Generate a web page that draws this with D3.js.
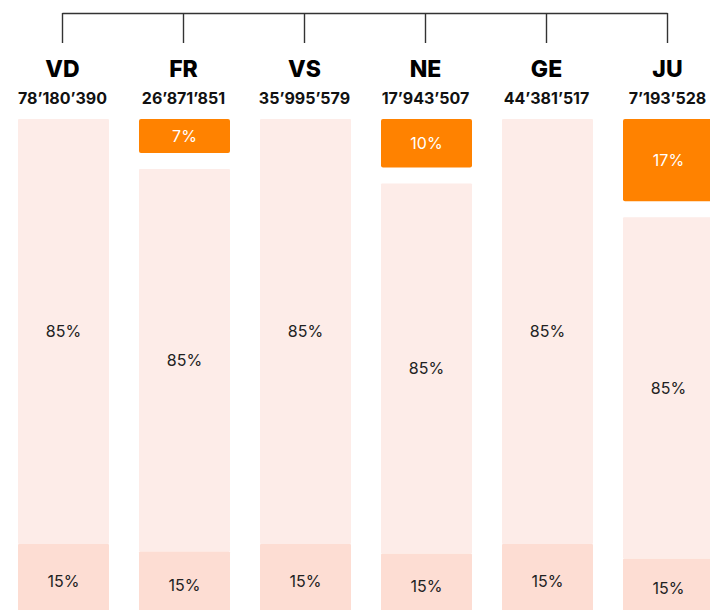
<!DOCTYPE html>
<html>
<head>
<meta charset="utf-8">
<script src="https://cdn.jsdelivr.net/npm/d3@7"></script>
<style>
  body { margin: 0; background: #fff; }
  svg { display: block; font-family: Inter, "Liberation Sans", sans-serif; }
</style>
</head>
<body>
<div id="chart"></div>
<script>
(function(){
  'use strict';

  // cantons and their totals
  var cantons = ['VD', 'FR', 'VS', 'NE', 'GE', 'JU'];
  var totals = ['78’180’390', '26’871’851', '35’995’579', '17’943’507', '44’381’517', '7’193’528'];
  // share of the orange segment on top (0 = none)
  var topShare = [0, 0.07, 0, 0.10, 0, 0.17];
  // split of the rest
  var midShare = [0.85, 0.85, 0.85, 0.85, 0.85, 0.85];
  var lowShare = [0.15, 0.15, 0.15, 0.15, 0.15, 0.15];

  var width = 710, height = 610;
  var barTop = 119, colH = 500, gap = 16;

  var svg = d3.select('#chart').append('svg')
    .attr('width', width).attr('height', height);

  var x = d3.scaleBand().domain(cantons).range([18, 714]).paddingInner(30 / 121).paddingOuter(0);
  var fmt = d3.format('.0%');

  // bracket on top
  var cx = function(c){ return x(c) + x.bandwidth() / 2 - 1; };
  svg.append('path')
    .attr('d', 'M' + cx(cantons[0]) + ',13.5H' + cx(cantons[cantons.length - 1]))
    .attr('stroke', '#333').attr('stroke-width', 1.4).attr('fill', 'none');
  svg.selectAll('line.tick').data(cantons).enter().append('line')
    .attr('class', 'tick')
    .attr('x1', cx).attr('x2', cx).attr('y1', 13).attr('y2', 43)
    .attr('stroke', '#333').attr('stroke-width', 1.4);

  svg.selectAll('text.name').data(cantons).enter().append('text')
    .attr('class', 'name')
    .attr('x', cx).attr('y', 77)
    .attr('text-anchor', 'middle')
    .attr('font-size', 23).attr('font-weight', 800).attr('fill', '#000')
    .text(function(d){ return d; });

  svg.selectAll('text.total').data(cantons).enter().append('text')
    .attr('class', 'total')
    .attr('x', cx).attr('y', 103.5)
    .attr('text-anchor', 'middle')
    .attr('font-size', 16).attr('font-weight', 700).attr('fill', '#111')
    .text(function(d, i){ return totals[i]; });

  var rows = cantons.map(function(c, i){
    var avail = topShare[i] > 0 ? colH - gap : colH;
    var y = d3.scaleLinear().domain([0, 1]).range([0, avail]);
    var rest = 1 - topShare[i];
    var segs = [];
    var pos = barTop;
    if (topShare[i] > 0) {
      segs.push({ c: c, v: topShare[i], y0: pos, h: y(topShare[i]), k: 'top' });
      pos += y(topShare[i]) + gap;
    }
    var hm = y(rest * midShare[i]);
    segs.push({ c: c, v: midShare[i], y0: pos, h: hm, k: 'mid' });
    pos += hm;
    segs.push({ c: c, v: lowShare[i], y0: pos, h: y(rest * lowShare[i]), k: 'low' });
    return segs;
  });
  var segs = d3.merge(rows);

  var fill = { top: '#FF8200', mid: '#FDECE8', low: '#FDDDD3' };
  var ink = { top: '#fff', mid: '#222', low: '#222' };

  svg.selectAll('rect.seg').data(segs).enter().append('rect')
    .attr('class', 'seg')
    .attr('x', function(d){ return x(d.c); })
    .attr('y', function(d){ return d.y0; })
    .attr('width', x.bandwidth())
    .attr('height', function(d){ return d.h; })
    .attr('rx', function(d){ return d.k == 'top' ? 2 : 1; })
    .attr('fill', function(d){ return fill[d.k]; });

  svg.selectAll('text.pct').data(segs).enter().append('text')
    .attr('class', 'pct')
    .attr('x', function(d){ return x(d.c) + x.bandwidth() / 2; })
    .attr('y', function(d){ return d.y0 + d.h / 2; })
    .attr('dy', '0.35em')
    .attr('text-anchor', 'middle')
    .attr('font-size', 16)
    .attr('fill', function(d){ return ink[d.k]; })
    .text(function(d){ return fmt(d.v); });

})();
</script>
</body>
</html>
